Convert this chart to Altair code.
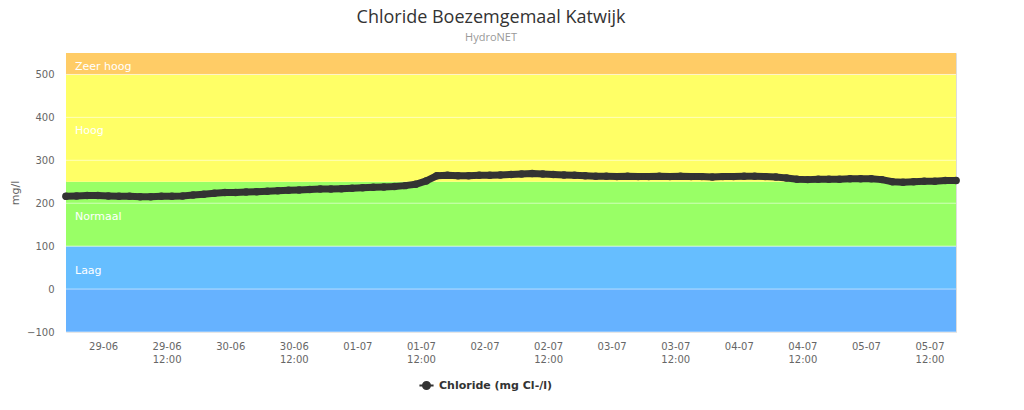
import altair as alt
import pandas as pd

# ---- data ----
start_time = "2020-06-28 17:00"
values = [216, 217, 218, 218, 217, 216, 216, 215, 215, 216,
          216, 217, 219, 221, 223, 225, 225, 226, 227, 228,
          229, 230, 231, 232, 233, 233, 234, 235, 236, 237,
          238, 239, 241, 244, 252, 264, 265, 264, 264, 265,
          265, 266, 267, 268, 269, 268, 267, 266, 265, 264,
          263, 263, 262, 263, 262, 262, 263, 262, 263, 262,
          262, 261, 262, 262, 263, 263, 262, 261, 259, 256,
          255, 256, 256, 256, 257, 257, 257, 255, 250, 249,
          250, 251, 251, 253, 253]
series_name = "Chloride (mg Cl-/l)"

band_lo = [-100, 0, 100, 250, 500]
band_hi = [0, 100, 250, 500, 550]
band_label = ["", "Laag", "Normaal", "Hoog", "Zeer hoog"]
band_color = ["#66B2FF", "#66BEFF", "#99FF66", "#FFFF66", "#FFCC66"]

y_ticks = [-100, 0, 100, 200, 300, 400, 500]

times = pd.date_range(start_time, periods=len(values), freq="2h", tz="UTC")
df = pd.DataFrame({
    "t": [t.strftime("%Y-%m-%dT%H:%M:%SZ") for t in times],
    "v": values,
    "s": series_name,
})

bands = pd.DataFrame({"lo": band_lo, "hi": band_hi, "label": band_label, "color": band_color})
bands["mid"] = (bands["lo"] + bands["hi"]) / 2
grid = pd.DataFrame({"g": y_ticks})

def ms(ts):
    return int(pd.Timestamp(ts, tz="UTC").value // 1_000_000)

x_domain = [ms("2020-06-28 17:00"), ms("2020-07-05 17:00")]
x_ticks = [ms(t) for t in pd.date_range("2020-06-29 00:00", "2020-07-05 12:00", freq="12h")]

W, H = 890, 279
yscale = alt.Scale(domain=[-100, 550], nice=False, zero=False)
yaxis = alt.Axis(values=y_ticks, title="mg/l", grid=False, ticks=False, domain=False,
                 labelColor="#666666", labelFontSize=10, labelPadding=12,
                 titleColor="#666666", titleFontSize=11, titleFontWeight="normal",
                 titleX=-46)

xscale = alt.Scale(type="utc", domain=x_domain, nice=False)
xaxis = alt.Axis(values=x_ticks, title=None, grid=False, ticks=False, domain=False,
                 labelColor="#666666", labelFontSize=10, labelPadding=9, labelLineHeight=13,
                 labelExpr="utcFormat(datum.value, '%H') == '12' ? [utcFormat(datum.value, '%d-%m'), '12:00'] : utcFormat(datum.value, '%d-%m')")

band_layer = alt.Chart(bands).mark_rect().encode(
    x=alt.value(0), x2=alt.value(W),
    y=alt.Y("lo:Q", scale=yscale, axis=yaxis),
    y2="hi:Q",
    color=alt.Color("color:N", scale=None),
)

grid_layer = alt.Chart(grid).mark_rule(color="#ffffff", strokeOpacity=0.55, strokeWidth=1).encode(
    x=alt.value(0), x2=alt.value(W),
    y=alt.Y("g:Q", scale=yscale, axis=yaxis),
)

label_layer = alt.Chart(bands[bands["label"] != ""]).mark_text(
    align="left", baseline="middle", dx=9, dy=3, color="#ffffff", fontSize=11
).encode(
    x=alt.value(0),
    y=alt.Y("mid:Q", scale=yscale, axis=yaxis),
    text="label:N",
)

line_layer = alt.Chart(df).mark_line(strokeWidth=7, strokeCap="round", strokeJoin="round").encode(
    x=alt.X("t:T", scale=xscale, axis=xaxis),
    y=alt.Y("v:Q", scale=yscale, axis=yaxis),
    color=alt.Color("s:N", scale=alt.Scale(range=["#333333"]),
                    legend=alt.Legend(
                        title=None, orient="none", legendX=352, legendY=324,
                        symbolType="M-1,0L1,0M-0.5,0A0.5,0.5 0 1 1 0.5,0A0.5,0.5 0 1 1 -0.5,0Z",
                        symbolSize=200, symbolStrokeWidth=2,
                        symbolFillColor="#333333", symbolStrokeColor="#333333",
                        labelFontSize=11, labelFontWeight="bold", labelColor="#333333",
                        labelFont="DejaVu Sans")),
)

point_layer = alt.Chart(df).mark_circle(size=56, opacity=1, color="#333333").encode(
    x=alt.X("t:T", scale=xscale, axis=xaxis),
    y=alt.Y("v:Q", scale=yscale, axis=yaxis),
)

chart = alt.layer(band_layer, grid_layer, label_layer, line_layer, point_layer).properties(
    width=W, height=H,
    autosize=alt.AutoSizeParams(type="none"),
    padding={"left": 66, "top": 53, "right": 68, "bottom": 78},
    title=alt.TitleParams(
        text="Chloride Boezemgemaal Katwijk",
        subtitle="HydroNET",
        anchor="middle", dx=-20, offset=10,
        font="Open Sans", fontSize=18, fontWeight="normal", color="#333333",
        subtitleFont="Open Sans", subtitleFontSize=11, subtitleColor="#999999",
        subtitlePadding=5,
    ),
).configure_view(stroke=None).configure(font="DejaVu Sans")

chart.save("out.html", embed_options={"renderer": "svg", "actions": False})
